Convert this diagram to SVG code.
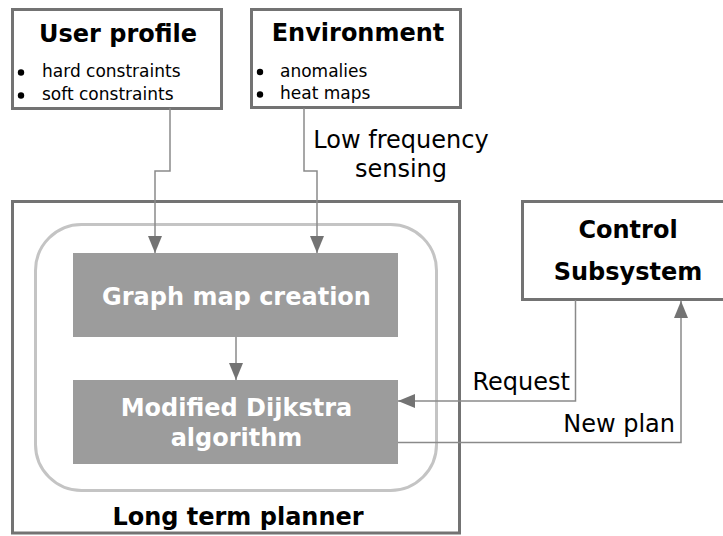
<svg xmlns="http://www.w3.org/2000/svg" width="723" height="536" viewBox="0 0 723 536">
<defs>
<style>
.box{fill:#fff;stroke:#737373;stroke-width:3}
.inner{fill:none;stroke:#c4c4c4;stroke-width:3}
.gbox{fill:#9c9c9c}
.title{font-family:"DejaVu Sans",Verdana,sans-serif;font-weight:bold;font-size:24px;fill:#000;text-anchor:middle}
.wtitle{font-family:"DejaVu Sans",Verdana,sans-serif;font-weight:bold;font-size:24px;fill:#fff;text-anchor:middle}
.item{font-family:"DejaVu Sans",Verdana,sans-serif;font-size:17px;fill:#000}
.lbl{font-family:"DejaVu Sans",Verdana,sans-serif;font-size:24px;fill:#000}
.conn{fill:none;stroke:#8a8a8a;stroke-width:1.5}
</style>
<marker id="ah" markerWidth="17" markerHeight="14" refX="17" refY="7" orient="auto" markerUnits="userSpaceOnUse">
<path d="M0,0 L17,7 L0,14 Z" fill="#737373"/>
</marker>
</defs>
<g id="user-profile">
<rect class="box" x="12.5" y="9.5" width="209" height="99"/>
<text class="title" x="118" y="42">User profile</text>
<circle cx="21" cy="72.5" r="3.2"/>
<text class="item" x="42" y="77">hard constraints</text>
<circle cx="21" cy="95.5" r="3.2"/>
<text class="item" x="42" y="100">soft constraints</text>
</g>
<g id="environment">
<rect class="box" x="251.5" y="9.5" width="209" height="98"/>
<text class="title" x="358" y="41">Environment</text>
<circle cx="260" cy="72" r="3.2"/>
<text class="item" x="280" y="77">anomalies</text>
<circle cx="260" cy="94.5" r="3.2"/>
<text class="item" x="280" y="99">heat maps</text>
</g>
<g id="long-term-planner">
<rect class="box" x="12.5" y="201.5" width="447" height="331.5"/>
<rect class="inner" x="35.5" y="224.5" width="401" height="266" rx="46" ry="46"/>
<text class="title" x="238" y="525">Long term planner</text>
</g>
<g id="graph-map-creation">
<rect class="gbox" x="73" y="253" width="325" height="84"/>
<text class="wtitle" x="236.5" y="305">Graph map creation</text>
</g>
<g id="modified-dijkstra">
<rect class="gbox" x="73" y="380" width="325" height="84"/>
<text class="wtitle" x="236.5" y="416">Modified Dijkstra</text>
<text class="wtitle" x="236.5" y="446">algorithm</text>
</g>
<g id="control-subsystem">
<rect class="box" x="522.5" y="201.5" width="210" height="98"/>
<text class="title" x="628" y="238">Control</text>
<text class="title" x="628" y="280">Subsystem</text>
</g>
<g id="connectors">
<path class="conn" d="M170,108 V171 H155 V253" marker-end="url(#ah)"/>
<path class="conn" d="M304,108 V171 H317 V253" marker-end="url(#ah)"/>
<path class="conn" d="M236,337 V380" marker-end="url(#ah)"/>
<path class="conn" d="M575.5,300 V401 H398" marker-end="url(#ah)"/>
<path class="conn" d="M398,442.5 H681 V301" marker-end="url(#ah)"/>
<text class="lbl" x="401" y="148" text-anchor="middle">Low frequency</text>
<text class="lbl" x="401" y="177" text-anchor="middle">sensing</text>
<text class="lbl" x="570" y="390" text-anchor="end">Request</text>
<text class="lbl" x="675" y="432" text-anchor="end">New plan</text>
</g>
</svg>
